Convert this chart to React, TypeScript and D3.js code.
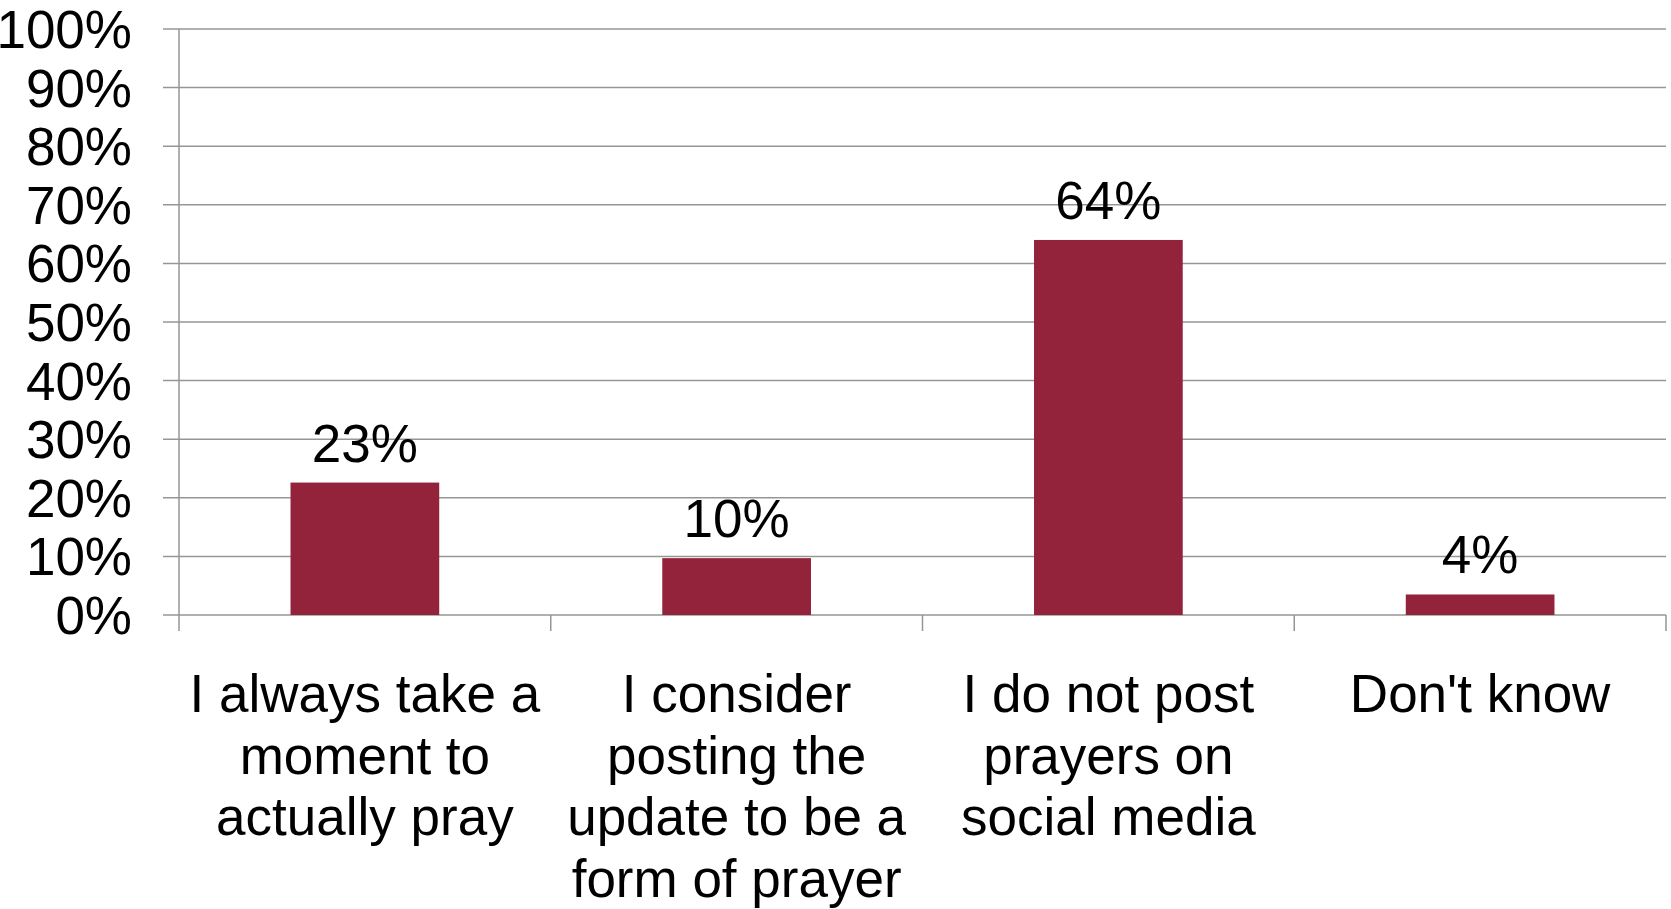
import React from "react";
import * as d3 from "d3";

const categories: string[] = [
  "I always take a moment to actually pray",
  "I consider posting the update to be a form of prayer",
  "I do not post prayers on social media",
  "Don't know",
];
const categoryLines: string[][] = [
  ["I always take a", "moment to", "actually pray"],
  ["I consider", "posting the", "update to be a", "form of prayer"],
  ["I do not post", "prayers on", "social media"],
  ["Don't know"],
];
const values: number[] = [22.6, 9.7, 64.0, 3.5];
const yTicks: number[] = [0, 10, 20, 30, 40, 50, 60, 70, 80, 90, 100];

const W = 1671;
const H = 909;
const left = 179;
const right = 1666;
const top = 29;
const bottom = 615;
const FONT = "'Liberation Sans', Arial, sans-serif";
const FS = 53;
const BAR = "#93233A";
const GRID = "#969696";

export default function App() {
  const x = d3
    .scaleBand<string>()
    .domain(categories)
    .range([left, right])
    .paddingInner(0.6)
    .paddingOuter(0.3);
  const y = d3.scaleLinear().domain([0, 100]).range([bottom, top]);
  const step = x.step();
  const boundaries = d3.range(categories.length + 1).map((i) => left + i * step);

  return (
    <svg
      width={W}
      height={H}
      style={{ position: "absolute", left: 0, top: 0, display: "block", background: "#fff" }}
      fontFamily={FONT}
    >
      <rect x={0} y={0} width={W} height={H} fill="#fff" />
      {yTicks.map((t) => (
        <g key={t}>
          <line x1={163} x2={right} y1={y(t)} y2={y(t)} stroke={GRID} strokeWidth={1.5} />
          <text x={132} y={y(t) + 19} fontSize={FS} textAnchor="end" fill="#000">
            {t}%
          </text>
        </g>
      ))}
      <line x1={left} x2={left} y1={top} y2={bottom + 16} stroke={GRID} strokeWidth={1.5} />
      {boundaries.slice(1).map((bx, i) => (
        <line key={i} x1={bx} x2={bx} y1={bottom} y2={bottom + 16} stroke={GRID} strokeWidth={1.5} />
      ))}
      {categories.map((c, i) => (
        <rect
          key={c}
          x={x(c)!}
          y={y(values[i])}
          width={x.bandwidth()}
          height={y(0) - y(values[i])}
          fill={BAR}
        />
      ))}
      {categories.map((c, i) => (
        <text
          key={"l" + c}
          x={x(c)! + x.bandwidth() / 2}
          y={y(values[i]) - 21}
          fontSize={FS}
          textAnchor="middle"
          fill="#000"
        >
          {Math.round(values[i])}%
        </text>
      ))}
      {categories.map((c, i) => (
        <text
          key={"c" + c}
          x={x(c)! + x.bandwidth() / 2}
          y={712}
          fontSize={FS}
          textAnchor="middle"
          fill="#000"
        >
          {categoryLines[i].map((ln, j) => (
            <tspan key={j} x={x(c)! + x.bandwidth() / 2} y={712 + j * 61.5}>
              {ln}
            </tspan>
          ))}
        </text>
      ))}
    </svg>
  );
}
